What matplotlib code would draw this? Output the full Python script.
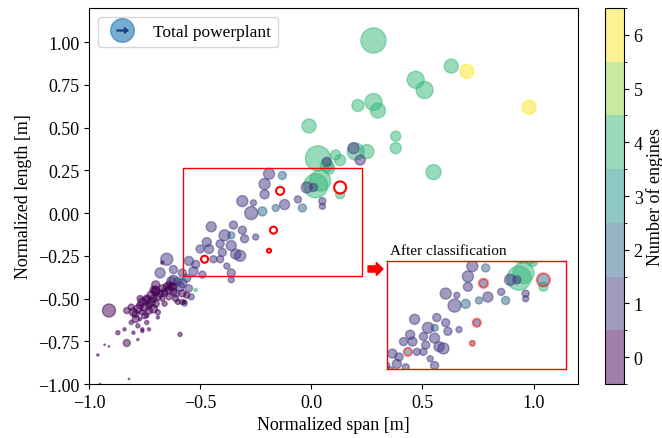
import numpy as np
import matplotlib
matplotlib.use("Agg")
import matplotlib.pyplot as plt
from matplotlib.colors import BoundaryNorm
from matplotlib.lines import Line2D
from matplotlib.patches import Rectangle, FancyArrow

plt.rcParams['font.family'] = ['Liberation Serif', 'DejaVu Serif']
plt.rcParams['mathtext.fontset'] = 'stix'

# aircraft: normalized span, normalized length, number of engines, total powerplant (marker size index)
span = np.array([
    0.28, 0.63, 0.70, 0.47, 0.51, 0.98, 0.28, 0.30, 0.21, -0.01,
    0.38, 0.38, 0.55, 0.25, 0.20, 0.19, 0.22, 0.11, 0.13, 0.07,
    0.03, 0.07, 0.08, 0.04, 0.02, -0.02, 0.01, 0.13, 0.05, 0.05,
    -0.19, -0.13, -0.21, -0.21, -0.31, -0.26, -0.27, -0.22, -0.12, -0.16,
    -0.06, -0.04, -0.45, -0.35, -0.31, -0.39, -0.36, -0.30, -0.25, -0.47,
    -0.41, -0.36, -0.50, -0.46, -0.40, -0.34, -0.32, -0.55, -0.52, -0.44,
    -0.41, -0.38, -0.36, -0.36, -0.53, -0.58, -0.49, -0.56, -0.65, -0.68,
    -0.67, -0.62, -0.62, -0.58, -0.66, -0.63, -0.61, -0.55, -0.52, -0.59,
    -0.56, -0.57, -0.60, -0.62, -0.70, -0.64, -0.74, -0.71, -0.91, -0.83,
    -0.80, -0.78, -0.76, -0.79, -0.81, -0.78, -0.72, -0.70, -0.67, -0.65,
    -0.70, -0.67, -0.74, -0.76, -0.69, -0.69, -0.74, -0.77, -0.73, -0.84,
    -0.66, -0.64, -0.61, -0.58, -0.58, -0.62, -0.71, -0.73, -0.76, -0.77,
    -0.59, -0.83, -0.87, -0.80, -0.76, -0.78, -0.93, -0.91, -0.96, -0.82,
    -0.95, -0.54, -0.57, -0.75, -0.73, -0.77, -0.72, -0.69, -0.68, -0.75,
    -0.79, -0.71, -0.66, -0.74, -0.70, -0.64, -0.81, -0.63, -0.60,
])
length = np.array([
    1.01, 0.86, 0.83, 0.78, 0.72, 0.62, 0.65, 0.60, 0.63, 0.51,
    0.45, 0.38, 0.24, 0.36, 0.36, 0.38, 0.31, 0.34, 0.31, 0.30,
    0.32, 0.28, 0.26, 0.19, 0.16, 0.15, 0.15, 0.11, 0.07, 0.04,
    0.23, 0.22, 0.17, 0.11, 0.07, 0.06, 0.00, 0.01, 0.05, 0.03,
    0.08, 0.03, -0.08, -0.07, -0.10, -0.13, -0.13, -0.15, -0.14, -0.17,
    -0.18, -0.19, -0.21, -0.21, -0.23, -0.24, -0.25, -0.28, -0.30, -0.27,
    -0.27, -0.31, -0.35, -0.39, -0.34, -0.35, -0.36, -0.38, -0.27, -0.35,
    -0.29, -0.33, -0.39, -0.41, -0.46, -0.43, -0.47, -0.44, -0.45, -0.43,
    -0.48, -0.52, -0.52, -0.46, -0.42, -0.42, -0.51, -0.50, -0.57, -0.57,
    -0.58, -0.56, -0.52, -0.62, -0.64, -0.66, -0.48, -0.46, -0.44, -0.43,
    -0.53, -0.50, -0.64, -0.68, -0.58, -0.61, -0.60, -0.62, -0.68, -0.68,
    -0.53, -0.49, -0.50, -0.52, -0.47, -0.43, -0.45, -0.54, -0.58, -0.50,
    -0.71, -0.76, -0.70, -0.70, -0.69, -0.74, -0.77, -0.78, -0.83, -0.97,
    -1.00, -0.49, -0.53, -0.55, -0.57, -0.54, -0.52, -0.49, -0.47, -0.60,
    -0.59, -0.56, -0.47, -0.50, -0.45, -0.45, -0.55, -0.40, -0.40,
])
engines = np.array([
    4, 4, 6, 4, 4, 6, 4, 4, 4, 4,
    4, 4, 4, 4, 4, 1, 1, 4, 4, 1,
    4, 4, 4, 4, 4, 1, 1, 4, 1, 1,
    1, 2, 1, 1, 1, 1, 1, 2, 1, 2,
    1, 2, 1, 1, 1, 1, 2, 1, 1, 1,
    1, 1, 1, 1, 1, 1, 1, 1, 1, 1,
    1, 1, 1, 1, 1, 1, 1, 1, 1, 1,
    0, 1, 1, 1, 1, 0, 1, 1, 4, 1,
    0, 0, 0, 0, 0, 0, 0, 0, 0, 0,
    0, 0, 0, 0, 0, 0, 0, 0, 0, 0,
    0, 0, 0, 0, 0, 0, 0, 0, 0, 0,
    0, 0, 0, 0, 0, 0, 0, 0, 0, 0,
    0, 0, 0, 0, 0, 0, 0, 0, 0, 0,
    0, 1, 1, 0, 0, 0, 0, 0, 0, 0,
    0, 0, 0, 0, 0, 0, 0, 1, 1,
])
power = np.array([
    26, 15, 15, 18, 18, 15, 18, 16, 13, 15,
    11, 12, 16, 15, 18, 12, 11, 11, 12, 10,
    26, 14, 12, 22, 25, 12, 9, 10, 8, 7,
    12, 9, 12, 10, 12, 7, 14, 10, 11, 8,
    8, 9, 11, 9, 9, 12, 8, 9, 7, 10,
    9, 11, 9, 10, 9, 11, 12, 10, 9, 8,
    8, 7, 9, 7, 10, 9, 8, 9, 13, 11,
    4, 9, 10, 10, 8, 8, 8, 8, 4, 10,
    7, 5, 6, 8, 9, 8, 9, 8, 14, 7,
    9, 9, 9, 8, 5, 5, 9, 9, 8, 8,
    8, 6, 5, 4, 6, 4, 5, 4, 4, 4,
    6, 7, 7, 6, 8, 8, 8, 7, 6, 7,
    5, 8, 5, 4, 4, 3, 2, 2, 3, 2,
    2, 7, 6, 9, 8, 8, 9, 8, 8, 7,
    8, 9, 7, 8, 9, 8, 7, 10, 9,
])

# aircraft with unknown number of engines (red circles) and their classified values
unk_span = np.array([-0.14, 0.13, -0.17, -0.19, -0.48])
unk_length = np.array([0.13, 0.15, -0.10, -0.22, -0.27])
unk_power = np.array([10, 14, 9, 6, 9])
unk_engines = np.array([1, 2, 1, 2, 2])

box_x = (-0.576, 0.230)
box_y = (-0.370, 0.262)

cmap = plt.get_cmap('viridis', 7)
norm = BoundaryNorm(np.arange(-0.5, 7.5, 1), 7)


def msize(p):
    return 0.52 * (p - 1) ** 2 + 0.5


order = np.argsort(-engines, kind='stable')

fig = plt.figure(figsize=(6.62, 4.39), dpi=100)
ax = fig.add_axes([0.1344, 0.1230, 0.7387, 0.8565])
cax = fig.add_axes([0.9139, 0.1230, 0.0287, 0.8565])

sc = ax.scatter(span[order], length[order], s=msize(power[order]), c=engines[order],
                cmap=cmap, norm=norm, alpha=0.5)
ax.scatter(unk_span, unk_length, s=0.52 * (unk_power - 2) ** 2, facecolors='white',
           edgecolors='red', linewidths=1.5, zorder=3)
ax.add_patch(Rectangle((box_x[0], box_y[0]), box_x[1] - box_x[0], box_y[1] - box_y[0],
                       fill=False, edgecolor='red', linewidth=1, zorder=4))

ax.set_xlim(-1.0, 1.2)
ax.set_ylim(-1.0, 1.2)
ax.set_xticks([-1.0, -0.5, 0.0, 0.5, 1.0])
ax.set_yticks(np.arange(-1.0, 1.01, 0.25))
ax.tick_params(labelsize=13)
ax.set_xlabel('Normalized span [m]', fontsize=13)
ax.set_ylabel('Normalized length [m]', fontsize=13)

# legend: blue bubble with arrow
circ = Line2D([], [], marker='o', linestyle='none', markersize=17, color='#1f77b4', alpha=0.6)
arr = Line2D([], [], marker='$\\rightarrow$', linestyle='none', markersize=8, color='#1f3c88')
ax.legend([(circ, arr)], ['Total powerplant'], loc='upper left', fontsize=12.5)

cbar = fig.colorbar(sc, cax=cax, ticks=range(7))
cbar.ax.tick_params(labelsize=13)
cbar.set_label('Number of engines', fontsize=13, labelpad=2)

# inset: after classification
ax_in = fig.add_axes([0.584, 0.1572, 0.2704, 0.2467])
ax_in.scatter(span[order], length[order], s=msize(power[order]), c=engines[order],
              cmap=cmap, norm=norm, alpha=0.5)
ax_in.scatter(unk_span, unk_length, s=msize(unk_power), c=unk_engines, cmap=cmap, norm=norm,
              alpha=0.5, edgecolors='red', linewidths=1.5)
ax_in.set_xlim(*box_x)
ax_in.set_ylim(*box_y)
ax_in.set_xticks([])
ax_in.set_yticks([])
for sp in ax_in.spines.values():
    sp.set_edgecolor('red')
    sp.set_linewidth(1)

fig.text(0.589, 0.426, 'After classification', fontsize=11, va='center', ha='left')
fig.patches.append(FancyArrow(0.556, 0.385, 0.0225, 0, width=0.014, head_width=0.03,
                              head_length=0.01, length_includes_head=True,
                              color='red', transform=fig.transFigure, figure=fig))

fig.savefig('out.png', dpi=100)
